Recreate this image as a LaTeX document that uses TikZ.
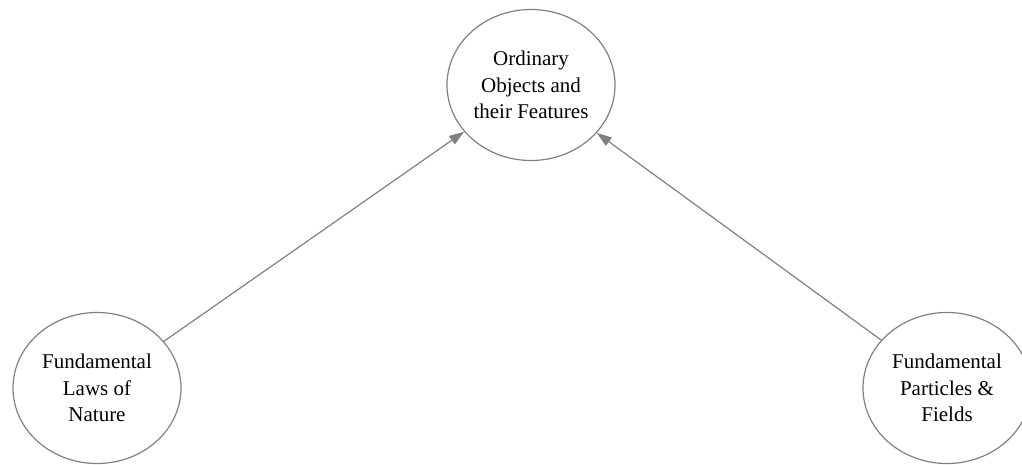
\documentclass[tikz,border=0pt]{standalone}
\usepackage{fontspec}
\setmainfont{Liberation Serif}
\usetikzlibrary{shapes.geometric,arrows.meta}
\begin{document}
\begin{tikzpicture}[x=1pt,y=-1pt,
  bubble/.style={draw=linegray, line width=1.2pt, ellipse, minimum width=168pt, minimum height=151pt, inner sep=0pt, align=center, font=\fontsize{21}{26.5}\selectfont, text=black},
  link/.style={draw=linegray, line width=1.2pt, -{Triangle[length=15pt,width=10pt]}}]
\definecolor{linegray}{RGB}{128,128,128}
\useasboundingbox (0,0) rectangle (1022,464);
\clip (0,0) rectangle (1022,464);
\node[bubble] (T) at (531,85) {Ordinary\\Objects and\\their Features};
\node[bubble] (L) at (97,388) {Fundamental\\Laws of\\Nature};
\node[bubble] (R) at (947,388) {Fundamental\\Particles \&\\Fields};
\draw[link] (L) -- (T);
\draw[link] (R) -- (T);
\end{tikzpicture}
\end{document}
